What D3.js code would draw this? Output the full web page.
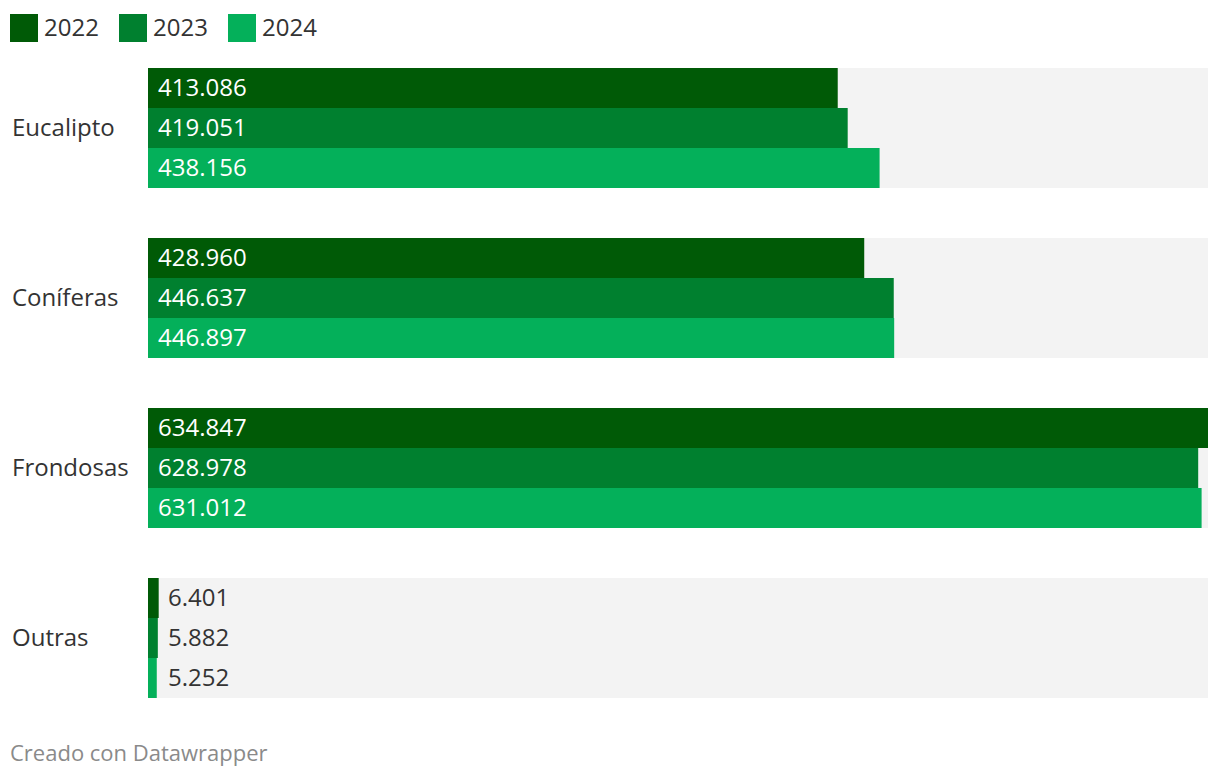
<!DOCTYPE html>
<html><head><meta charset="utf-8">
<script src="https://cdn.jsdelivr.net/npm/d3@7"></script>
<style>body{margin:0;background:#fff;font-family:"Open Sans",sans-serif;}</style>
</head><body><svg id="c" width="1220" height="780"></svg>
<script>
const categories = ["Eucalipto","Coníferas","Frondosas","Outras"];
const years = ["2022","2023","2024"];
const v2022 = [413086, 428960, 634847, 6401];
const v2023 = [419051, 446637, 628978, 5882];
const v2024 = [438156, 446897, 631012, 5252];
const series = [v2022, v2023, v2024];
const colors = ["#005a06","#00802f","#04b05a"];

const svg = d3.select("#c");
const fmt = v => d3.format(",")(v).replace(/,/g, ".");
const x = d3.scaleLinear().domain([0, d3.max(v2022.concat(v2023, v2024))]).range([148, 1208]);
const yG = d3.scaleBand().domain(categories).range([68, 698]).paddingInner(50/170).paddingOuter(0);
const yS = d3.scaleBand().domain(years).range([0, yG.bandwidth()]);

// legend
const lg = svg.append("g");
const lx = [10, 119, 228];
years.forEach((yr, i) => {
  lg.append("rect").attr("x", lx[i]).attr("y", 14).attr("width", 28).attr("height", 28).attr("fill", colors[i]);
  lg.append("text").attr("x", lx[i] + 34).attr("y", 36).attr("font-size", 24).attr("fill", "#333").text(yr);
});

categories.forEach((cat, ci) => {
  const g = svg.append("g").attr("transform", `translate(0,${yG(cat)})`);
  g.append("rect").attr("x", x(0)).attr("width", x.range()[1] - x(0)).attr("y", 0).attr("height", yG.bandwidth()).attr("fill", "#f3f3f3");
  g.append("text").attr("x", 12).attr("y", yG.bandwidth()/2).attr("dy", "0.35em").attr("font-size", 24).attr("fill", "#333").text(cat);
  years.forEach((yr, si) => {
    const val = series[si][ci];
    const w = x(val) - x(0);
    g.append("rect").attr("x", x(0)).attr("y", yS(yr)).attr("width", w).attr("height", yS.bandwidth()).attr("fill", colors[si]);
    const inside = w > 120;
    g.append("text").attr("x", inside ? x(0) + 10 : x(0) + 20)
      .attr("y", yS(yr) + yS.bandwidth()/2).attr("dy", "0.35em")
      .attr("font-size", 24).attr("fill", inside ? "#fff" : "#333").text(fmt(val));
  });
});

svg.append("text").attr("x", 10).attr("y", 761).attr("font-size", 22).attr("fill", "#8a8a8a").text("Creado con Datawrapper");
</script></body></html>
